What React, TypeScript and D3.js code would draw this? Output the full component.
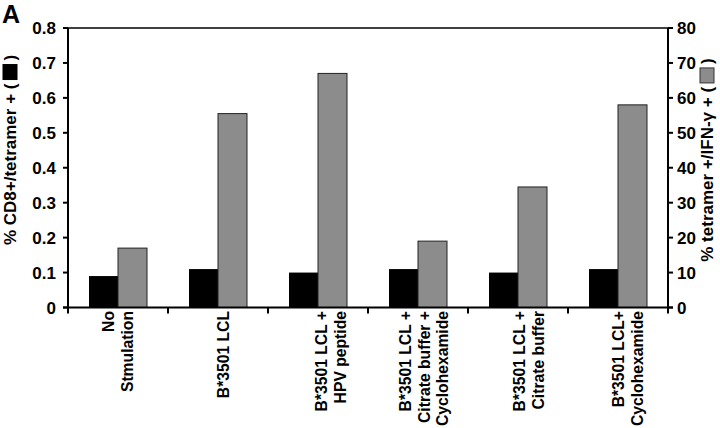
import React, { useLayoutEffect, useRef, useState } from "react";
import * as d3 from "d3";

const categories: string[][] = [
  ["No", "Stmulation"],
  ["B*3501 LCL"],
  ["B*3501 LCL +", "HPV peptide"],
  ["B*3501 LCL +", "Citrate buffer +", "Cyclohexamide"],
  ["B*3501 LCL +", "Citrate buffer"],
  ["B*3501 LCL+", "Cyclohexamide"],
];
const tetramerPct = [0.09, 0.11, 0.1, 0.11, 0.1, 0.11];
const ifnPct = [17, 55.5, 67, 19, 34.5, 58];
const leftTicks = [0, 0.1, 0.2, 0.3, 0.4, 0.5, 0.6, 0.7, 0.8];
const rightTicks = [0, 10, 20, 30, 40, 50, 60, 70, 80];
const leftTitlePrefix = "% CD8+/tetramer + (";
const rightTitlePrefix = "% tetramer +/IFN-\u03b3 + (";

const W = 720;
const H = 428;
const M = { left: 68, right: 668, top: 28, bottom: 307.5 };
const FONT = "'Liberation Sans', Arial, Helvetica, sans-serif";
const GRAY = "#8c8c8c";
const labelShift = [0, 5, 13, 6, 11, 10];

function RotTitle({ x, yMid, prefix, boxFill, boxStroke }: { x: number; yMid: number; prefix: string; boxFill: string; boxStroke: string }) {
  const ref = useRef<SVGTextElement>(null);
  const [len, setLen] = useState(0);
  const fs = 17;
  useLayoutEffect(() => {
    if (ref.current) setLen(ref.current.getComputedTextLength());
  }, []);
  const box = 15;
  const gap = 4;
  const close = fs * 0.333;
  const total = len + gap + box + gap + close;
  const start = yMid + total / 2; // bottom (text start)
  const boxStart = start - len - gap;
  return (
    <g>
      <text
        ref={ref}
        transform={`translate(${x},${start}) rotate(-90)`}
        fontFamily={FONT}
        fontWeight="bold"
        fontSize={fs}
        textAnchor="start"
      >
        {prefix}
      </text>
      {len > 0 && (
        <>
          <rect
            x={x - 13}
            y={boxStart - box}
            width={box - 1}
            height={box}
            fill={boxFill}
            stroke={boxStroke}
            strokeWidth={1}
          />
          <text
            transform={`translate(${x},${boxStart - box - gap}) rotate(-90)`}
            fontFamily={FONT}
            fontWeight="bold"
            fontSize={fs}
            textAnchor="start"
          >
            )
          </text>
        </>
      )}
    </g>
  );
}

export default function App() {
  const x = d3
    .scaleBand<number>()
    .domain(d3.range(categories.length))
    .range([M.left, M.right])
    .paddingInner(0)
    .paddingOuter(0);
  const inner = d3.scaleBand<number>().domain([0, 1]).range([21, 79]);
  const yL = d3.scaleLinear().domain([0, 0.8]).range([M.bottom, M.top]);
  const yR = d3.scaleLinear().domain([0, 80]).range([M.bottom, M.top]);
  const bw = x.bandwidth();
  const catTicks = d3.range(categories.length + 1).map((i) => M.left + i * bw);

  return (
    <svg width={W} height={H} style={{ position: "absolute", left: 0, top: 0, background: "#fff" }}>
      <rect x={0} y={0} width={W} height={H} fill="#fff" />
      <text x={2} y={23} fontFamily={FONT} fontWeight="bold" fontSize={25}>
        A
      </text>

      {/* bars */}
      {tetramerPct.map((v, i) => (
        <rect
          key={"b" + i}
          x={(x(i) as number) + (inner(0) as number)}
          y={yL(v)}
          width={inner.bandwidth()}
          height={M.bottom - yL(v)}
          fill="#000"
        />
      ))}
      {ifnPct.map((v, i) => (
        <rect
          key={"g" + i}
          x={(x(i) as number) + (inner(1) as number)}
          y={yR(v)}
          width={inner.bandwidth()}
          height={M.bottom - yR(v)}
          fill={GRAY}
          stroke="#222"
          strokeWidth={1}
        />
      ))}

      {/* frame */}
      <line x1={M.left} x2={M.right} y1={M.top} y2={M.top} stroke="#000" strokeWidth={1.5} />
      <line x1={M.left} x2={M.left} y1={M.top} y2={M.bottom} stroke="#000" strokeWidth={2} />
      <line x1={M.right} x2={M.right} y1={M.top} y2={M.bottom} stroke="#000" strokeWidth={2} />
      <line x1={M.left - 5} x2={M.right + 5} y1={M.bottom} y2={M.bottom} stroke="#000" strokeWidth={2} />

      {/* left ticks */}
      {leftTicks.map((t) => (
        <g key={"lt" + t}>
          <line x1={M.left - 5} x2={M.left} y1={yL(t)} y2={yL(t)} stroke="#000" strokeWidth={2} />
          <text
            x={M.left - 12}
            y={yL(t)}
            dy="0.36em"
            textAnchor="end"
            fontFamily={FONT}
            fontWeight="bold"
            fontSize={17}
          >
            {t === 0 ? "0" : d3.format(".1f")(t)}
          </text>
        </g>
      ))}
      {/* right ticks */}
      {rightTicks.map((t) => (
        <g key={"rt" + t}>
          <line x1={M.right} x2={M.right + 5} y1={yR(t)} y2={yR(t)} stroke="#000" strokeWidth={2} />
          <text
            x={M.right + 9}
            y={yR(t)}
            dy="0.36em"
            textAnchor="start"
            fontFamily={FONT}
            fontWeight="bold"
            fontSize={17}
          >
            {t}
          </text>
        </g>
      ))}
      {/* category ticks */}
      {catTicks.map((cx, i) => (
        <line key={"ct" + i} x1={cx} x2={cx} y1={M.bottom} y2={M.bottom + 6} stroke="#000" strokeWidth={2} />
      ))}
      {/* category labels */}
      {categories.map((lines, i) => {
        const c = (x(i) as number) + bw / 2 + labelShift[i];
        const n = lines.length;
        return lines.map((ln, j) => {
          const gx = c + (j - (n - 1) / 2) * 18.5 + 5.7;
          return (
            <text
              key={"cl" + i + "-" + j}
              transform={`translate(${gx},311) rotate(-90)`}
              textAnchor="end"
              fontFamily={FONT}
              fontWeight="bold"
              fontSize={15.7}
            >
              {ln}
            </text>
          );
        });
      })}

      <RotTitle x={16} yMid={150} prefix={leftTitlePrefix} boxFill="#000" boxStroke="#000" />
      <RotTitle x={713} yMid={160} prefix={rightTitlePrefix} boxFill={GRAY} boxStroke="#333" />
    </svg>
  );
}
